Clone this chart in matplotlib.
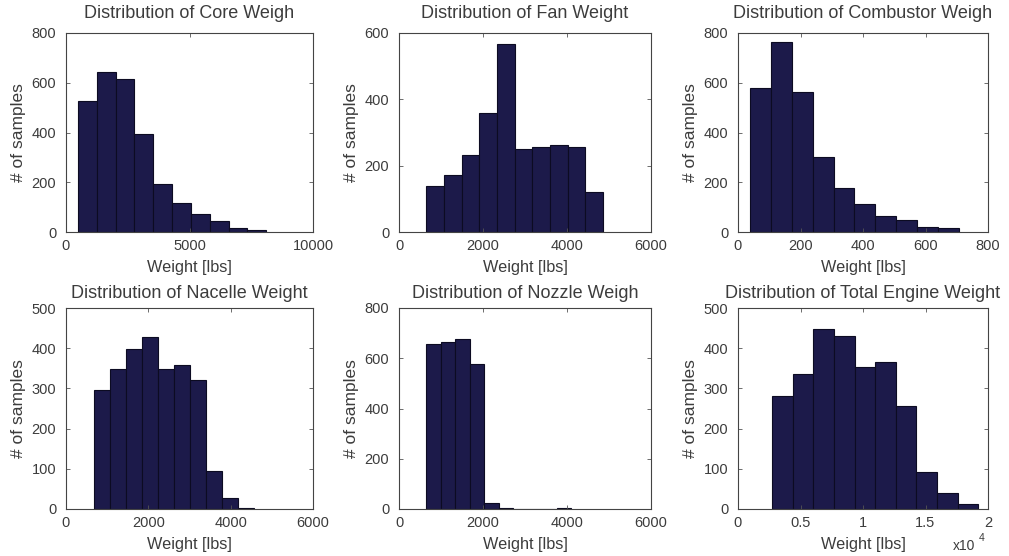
import numpy as np
import matplotlib
matplotlib.use("Agg")
import matplotlib.pyplot as plt
from matplotlib.ticker import FuncFormatter

# ---- data ----
titles = ["Distribution of Core Weigh", "Distribution of Fan Weight",
          "Distribution of Combustor Weigh", "Distribution of Nacelle Weight",
          "Distribution of Nozzle Weigh", "Distribution of Total Engine Weight"]

core_edges = [480, 1243, 2006, 2769, 3532, 4295, 5058, 5821, 6584, 7347, 8110]
core_counts = [525, 643, 617, 392, 193, 115, 74, 43, 18, 8]

fan_edges = [652, 1072, 1492, 1912, 2332, 2752, 3172, 3592, 4012, 4432, 4852]
fan_counts = [140, 171, 233, 360, 568, 250, 256, 262, 257, 121]

comb_edges = [39, 106, 172, 239, 306, 372, 439, 506, 573, 639, 706]
comb_counts = [580, 765, 562, 300, 176, 113, 63, 50, 20, 15]

nac_edges = [670, 1060, 1450, 1840, 2230, 2620, 3010, 3400, 3790, 4180, 4570]
nac_counts = [295, 348, 397, 428, 348, 358, 320, 95, 27, 3]

noz_edges = [652, 997, 1342, 1687, 2032, 2377, 2722, 3067, 3412, 3757, 4102]
noz_counts = [655, 664, 677, 578, 24, 4, 0, 0, 0, 4]

tot_edges = [2720, 4370, 6020, 7670, 9320, 10970, 12620, 14270, 15920, 17570, 19220]
tot_counts = [280, 337, 449, 431, 353, 366, 257, 91, 40, 13]

xlims = [(0, 10000), (0, 6000), (0, 800), (0, 6000), (0, 6000), (0, 20000)]
ylims = [(0, 800), (0, 600), (0, 800), (0, 500), (0, 800), (0, 500)]
xticks = [[0, 5000, 10000], [0, 2000, 4000, 6000], [0, 200, 400, 600, 800],
          [0, 2000, 4000, 6000], [0, 2000, 4000, 6000],
          [0, 5000, 10000, 15000, 20000]]
yticks = [[0, 200, 400, 600, 800], [0, 200, 400, 600], [0, 200, 400, 600, 800],
          [0, 100, 200, 300, 400, 500], [0, 200, 400, 600, 800],
          [0, 100, 200, 300, 400, 500]]

all_edges = [core_edges, fan_edges, comb_edges, nac_edges, noz_edges, tot_edges]
all_counts = [core_counts, fan_counts, comb_counts, nac_counts, noz_counts, tot_counts]

plt.rcParams['font.family'] = ['Liberation Sans', 'DejaVu Sans']
TXT = '#3c3c3c'
BAR = '#1c1a4a'

W, H = 1009, 556
fig = plt.figure(figsize=(W / 100, H / 100), dpi=100)

cols = [(66, 313), (399, 651), (738, 988)]
rows = [(33, 232), (308, 509)]
title_pads = [10.5, 7.5]

for i in range(6):
    r, c = divmod(i, 3)
    x0, x1 = cols[c]
    y0, y1 = rows[r]
    ax = fig.add_axes([x0 / W, 1 - y1 / H, (x1 - x0) / W, (y1 - y0) / H])
    e = np.array(all_edges[i], dtype=float)
    ax.bar(e[:-1], all_counts[i], width=np.diff(e), align='edge',
           color=BAR, edgecolor='#0c0b22', linewidth=0.8)
    ax.set_xlim(*xlims[i])
    ax.set_ylim(*ylims[i])
    ax.set_xticks(xticks[i])
    ax.set_yticks(yticks[i])
    ax.tick_params(direction='in', length=3, width=0.6, top=True, right=True,
                   labelsize=10.5, colors='#555555', labelcolor=TXT)
    ax.tick_params(axis='y', pad=7)
    ax.tick_params(axis='x', pad=5)
    for s in ax.spines.values():
        s.set_color('#444444')
        s.set_linewidth(0.8)
    ax.set_title(titles[i], fontsize=13, color=TXT, pad=title_pads[r])
    ax.set_ylabel('# of samples', fontsize=12.5, color=TXT, labelpad=4)
    ax.set_xlabel('Weight [lbs]', fontsize=11.7, color=TXT, labelpad=5)
    if i == 5:
        ax.xaxis.set_major_formatter(FuncFormatter(lambda v, p: f"{v/1e4:g}"))
        ax.text(0.905, -0.185, 'x10', transform=ax.transAxes,
                fontsize=10, color=TXT, ha='center', va='center')
        ax.text(0.975, -0.145, '4', transform=ax.transAxes,
                fontsize=7.5, color=TXT, ha='center', va='center')

fig.savefig('out.png', dpi=100)
